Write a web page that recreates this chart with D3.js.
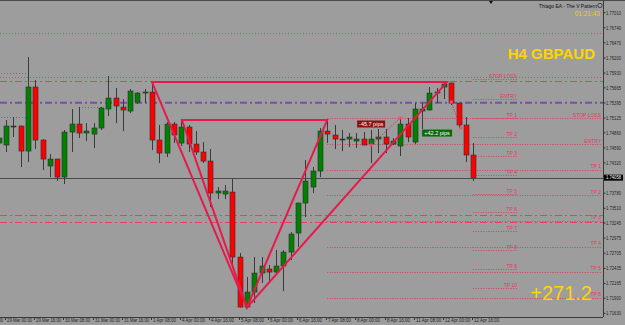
<!DOCTYPE html>
<html>
<head>
<meta charset="utf-8">
<script src="https://cdn.jsdelivr.net/npm/d3@7"></script>
<style>
body { margin: 0; background: #9d9d9d; }
svg { display: block; }
</style>
</head>
<body>
<svg id="chart" width="625" height="325"></svg>
<script>
// GBPAUD H4 candles, first entry is 28 Mar 20:00 (bar -1), bar 0 = 29 Mar 00:00
var firstBar = -1;
var opens  = [1.74677,1.74642,1.74982,1.74982,1.74534,1.75680,1.74731,1.74266,1.74391,1.74069,1.74874,1.75017,1.74856,1.74838,1.74946,1.75286,1.75483,1.75322,1.75250,1.75411,1.75572,1.75590,1.74731,1.74498,1.75017,1.74677,1.74964,1.74659,1.74516,1.74355,1.73782,1.73764,1.73800,1.72637,1.71742,1.72010,1.72350,1.72422,1.72368,1.72476,1.72726,1.73066,1.73603,1.73890,1.74176,1.74892,1.74821,1.74749,1.74749,1.74713,1.74749,1.74659,1.74749,1.74785,1.74659,1.74624,1.75017,1.74695,1.75250,1.75268,1.75572,1.75680,1.75751,1.75393,1.75000,1.74463];
var highs  = [1.74821,1.75089,1.75143,1.74990,1.76217,1.75805,1.74749,1.74480,1.74395,1.74910,1.75286,1.75322,1.75035,1.75035,1.75322,1.75877,1.75662,1.75465,1.75644,1.75590,1.75644,1.75751,1.75000,1.75053,1.75053,1.75089,1.75000,1.74892,1.74695,1.74570,1.73890,1.73926,1.74033,1.72708,1.72279,1.72637,1.72637,1.72494,1.72762,1.72762,1.73084,1.73610,1.74373,1.74248,1.74946,1.75107,1.75000,1.74910,1.74856,1.74856,1.74874,1.74910,1.74928,1.74928,1.74767,1.75125,1.75125,1.75393,1.75393,1.75680,1.75662,1.75769,1.75760,1.75400,1.75143,1.74677];
var lows   = [1.74624,1.74516,1.74785,1.74248,1.74337,1.74570,1.74194,1.74069,1.73997,1.73943,1.74516,1.74767,1.74713,1.74588,1.74910,1.75161,1.75035,1.74892,1.75214,1.75375,1.75393,1.74552,1.74319,1.74427,1.74677,1.74624,1.74516,1.74463,1.74319,1.73532,1.73675,1.73675,1.72458,1.71735,1.71724,1.71813,1.72171,1.72171,1.72350,1.72028,1.72583,1.72816,1.73353,1.73782,1.74069,1.74677,1.74570,1.74534,1.74606,1.74588,1.74636,1.74319,1.74498,1.74498,1.74642,1.74445,1.74695,1.74659,1.74928,1.75262,1.75393,1.75465,1.75358,1.74946,1.74337,1.73997];
var closes = [1.74767,1.74982,1.74982,1.74534,1.75680,1.74731,1.74391,1.74391,1.74069,1.74874,1.75017,1.74856,1.74892,1.74946,1.75304,1.75483,1.75340,1.75268,1.75608,1.75572,1.75590,1.74731,1.74498,1.75017,1.74821,1.74964,1.74659,1.74516,1.74355,1.73782,1.73818,1.73818,1.72637,1.71742,1.72010,1.72350,1.72476,1.72368,1.72476,1.72726,1.73048,1.73603,1.73997,1.74176,1.74892,1.74838,1.74749,1.74749,1.74785,1.74749,1.74642,1.74749,1.74785,1.74659,1.74713,1.75017,1.74785,1.75286,1.75286,1.75572,1.75590,1.75733,1.75393,1.75000,1.74463,1.74058];

var priceTicks = [1.77010,1.76740,1.76470,1.76200,1.75930,1.75665,1.75395,1.75125,1.74860,1.74590,1.74320,1.73780,1.73510,1.73245,1.72975,1.72705,1.72435,1.72165,1.71900,1.71630];
var timeTickBars = [-4,0,4,8,12,16,20,24,28,32,36,40,44,48,52,56,60,64];
var timeTickLabels = ["28 Mar 08:00","29 Mar 00:00","29 Mar 16:00","30 Mar 08:00","31 Mar 00:00","31 Mar 16:00","1 Apr 08:00","4 Apr 00:00","4 Apr 16:00","5 Apr 08:00","6 Apr 00:00","6 Apr 16:00","7 Apr 08:00","8 Apr 00:00","8 Apr 16:00","11 Apr 08:00","12 Apr 00:00","12 Apr 16:00"];
var bidPrice = 1.74058;

// EA levels
var rightLevelNames  = ["STOP LOSS","ENTRY","TP 1","TP 2","TP 3","TP 4","TP 5","TP 6"];
var rightLevelPrices = [1.75120,1.74660,1.74200,1.73745,1.73285,1.72825,1.72370,1.71910];
var rightLevelStart  = 44;
var leftLevelNames   = ["STOP LOSS","ENTRY","TP 1","TP 2","TP 3","TP 4","TP 5","TP 6","TP 7","TP 8","TP 9","TP 10"];
var leftLevelPrices  = [1.75823,1.75465,1.75125,1.74785,1.74445,1.74104,1.73764,1.73442,1.73102,1.72762,1.72422,1.72082];
var leftLevelStart   = 64;

var dottedLevels  = [1.76646,1.75868];
var dashDotLevels = [1.75796,1.73388,1.73263];
var purpleLevel   = 1.75399;
var segFrom  = [-1.5,-1.5,10,31];
var segTo    = [3,3,13.3,44];
var segPrice = [1.75925,1.75148,1.75316,1.74058];

// V pattern triangles [bar, price]
var patternA = [[20.0,1.75769],[60.4,1.75769],[33.0,1.71735]];
var patternB = [[24.1,1.75089],[44.0,1.75089],[33.0,1.71735]];

// closed trades
var tradeFrom = [[50,1.74642],[61,1.75411]];
var tradeTo   = [[54,1.75125],[62.3,1.74946]];
var tradeText = ["-45.7 pips","+42.2 pips"];
var tradeBar  = [48.1,57.0];
var tradePrice= [1.75018,1.74856];

var svg = d3.select("#chart");
var plotRight = 603, plotBottom = 317;

var x = d3.scaleLinear().domain([0, 64]).range([6, 473.2]);
var y = d3.scaleLinear().domain([1.71630, 1.77010]).range([313.3, 12.7]);
function px(v) { return Math.round(v) + 0.5; }

svg.append("defs").append("clipPath").attr("id", "clip")
    .append("rect").attr("x", 0).attr("y", 0).attr("width", plotRight).attr("height", plotBottom);

var plot = svg.append("g").attr("clip-path", "url(#clip)");
var red = "#e23a5c";

// full width levels
plot.selectAll(".dl").data(dottedLevels).enter().append("line")
    .attr("x1", 0).attr("x2", plotRight)
    .attr("y1", function(d) { return px(y(d)); }).attr("y2", function(d) { return px(y(d)); })
    .attr("stroke", red).attr("stroke-dasharray", "1,2").attr("opacity", 0.8);
plot.selectAll(".ddl").data(dashDotLevels).enter().append("line")
    .attr("x1", 0).attr("x2", plotRight)
    .attr("y1", function(d) { return px(y(d)); }).attr("y2", function(d) { return px(y(d)); })
    .attr("stroke", "#e8405a").attr("stroke-dasharray", "7,3,2,3");
plot.append("line")
    .attr("x1", 0).attr("x2", plotRight)
    .attr("y1", y(purpleLevel)).attr("y2", y(purpleLevel))
    .attr("stroke", "#7650a8").attr("stroke-width", 2).attr("stroke-dasharray", "7,3,2,3");

// short segments
plot.selectAll(".seg").data(segPrice).enter().append("line")
    .attr("x1", function(d, i) { return x(segFrom[i]); })
    .attr("x2", function(d, i) { return x(segTo[i]); })
    .attr("y1", function(d) { return px(y(d)); }).attr("y2", function(d) { return px(y(d)); })
    .attr("stroke", function(d, i) { return i == 3 ? "#6a4a3a" : red; })
    .attr("stroke-dasharray", "1,2");

// bid line
plot.append("line")
    .attr("x1", 0).attr("x2", plotRight)
    .attr("y1", px(y(bidPrice))).attr("y2", px(y(bidPrice)))
    .attr("stroke", "#4a4a4a");

// EA level lines + labels
function drawLevels(names, prices, startBar, endX) {
    var g = plot.append("g");
    g.selectAll("line").data(prices).enter().append("line")
        .attr("x1", x(startBar)).attr("x2", endX)
        .attr("y1", function(d) { return px(y(d)); }).attr("y2", function(d) { return px(y(d)); })
        .attr("stroke", red).attr("stroke-dasharray", "1,1.5");
    g.selectAll("text").data(prices).enter().append("text")
        .attr("x", endX).attr("y", function(d) { return y(d) - 1.5; })
        .attr("text-anchor", "end")
        .attr("font-family", "Liberation Sans, Arial, sans-serif")
        .attr("font-size", 5).attr("fill", red)
        .text(function(d, i) { return names[i]; });
}
drawLevels(leftLevelNames, leftLevelPrices, leftLevelStart, 517);
drawLevels(rightLevelNames, rightLevelPrices, rightLevelStart, 601);

// candles
var candles = opens.map(function(o, k) {
    return { bar: firstBar + k, o: o, h: highs[k], l: lows[k], c: closes[k] };
});
var cg = plot.append("g").selectAll("g").data(candles).enter().append("g");
cg.append("line")
    .attr("x1", function(d) { return px(x(d.bar)); })
    .attr("x2", function(d) { return px(x(d.bar)); })
    .attr("y1", function(d) { return y(d.h); })
    .attr("y2", function(d) { return y(d.l); })
    .attr("stroke", "#3a3a3a");
cg.append("rect")
    .attr("x", function(d) { return Math.round(x(d.bar)) - 2; })
    .attr("width", 5)
    .attr("y", function(d) { return y(Math.max(d.o, d.c)); })
    .attr("height", function(d) { return Math.max(1, Math.abs(y(d.o) - y(d.c))); })
    .attr("fill", function(d) { return d.c > d.o ? "#008200" : (d.c < d.o ? "#ff0000" : "#3a3a3a"); })
    .attr("stroke", "#2e2e2e").attr("stroke-width", 0.6);

// V pattern
var tri = d3.line().x(function(d) { return x(d[0]); }).y(function(d) { return y(d[1]); });
[patternA, patternB].forEach(function(p) {
    plot.append("path").attr("d", tri(p) + "Z")
        .attr("fill", "none").attr("stroke", "#e8184a").attr("stroke-width", 2)
        .attr("stroke-linejoin", "miter");
});

// trades
tradeFrom.forEach(function(f, i) {
    plot.append("line")
        .attr("x1", x(f[0])).attr("y1", y(f[1]))
        .attr("x2", x(tradeTo[i][0])).attr("y2", y(tradeTo[i][1]))
        .attr("stroke", "#e8184a").attr("stroke-dasharray", "1,1.5");
    [f, tradeTo[i]].forEach(function(pt) {
        plot.append("rect").attr("x", x(pt[0]) - 1.5).attr("y", y(pt[1]) - 1.5)
            .attr("width", 3).attr("height", 3).attr("fill", "#f05070");
    });
});
tradeText.forEach(function(t, i) {
    var g = plot.append("g").attr("transform", "translate(" + x(tradeBar[i]) + "," + y(tradePrice[i]) + ")");
    g.append("rect").attr("x", 0).attr("y", -3.5).attr("width", i == 0 ? 28 : 30).attr("height", 7)
        .attr("fill", i == 0 ? "#8e1010" : "#0a6a0a");
    g.append("text").attr("x", i == 0 ? 14 : 15).attr("y", 2)
        .attr("text-anchor", "middle")
        .attr("font-family", "Liberation Sans, Arial, sans-serif")
        .attr("font-size", 5.5).attr("fill", "#ffffff")
        .text(t);
});

// frame
svg.append("line").attr("x1", 0).attr("x2", 625).attr("y1", 0.5).attr("y2", 0.5).attr("stroke", "#4a4a4a");
svg.append("line").attr("x1", px(plotRight)).attr("x2", px(plotRight)).attr("y1", 0).attr("y2", plotBottom)
    .attr("stroke", "#3a3a3a");
svg.append("line").attr("x1", 0).attr("x2", plotRight).attr("y1", px(plotBottom)).attr("y2", px(plotBottom))
    .attr("stroke", "#3a3a3a");
svg.append("path").attr("d", "M489,1L493,1L491,4Z").attr("fill", "#111");

// price axis
var ya = svg.append("g").selectAll("g").data(priceTicks).enter().append("g")
    .attr("transform", function(d) { return "translate(0," + y(d) + ")"; });
ya.append("line").attr("x1", plotRight).attr("x2", plotRight + 2.5).attr("stroke", "#333");
ya.append("text").attr("x", 606).attr("y", 1.8)
    .attr("font-family", "Liberation Sans, Arial, sans-serif").attr("font-size", 5)
    .attr("textLength", 15).attr("lengthAdjust", "spacingAndGlyphs")
    .attr("fill", "#1e1e1e")
    .text(function(d) { return d.toFixed(5); });

// bid box
svg.append("rect").attr("x", 604).attr("y", y(bidPrice) - 3).attr("width", 19).attr("height", 6).attr("fill", "#000");
svg.append("text").attr("x", 606).attr("y", y(bidPrice) + 1.8)
    .attr("font-family", "Liberation Sans, Arial, sans-serif").attr("font-size", 5)
    .attr("textLength", 15).attr("lengthAdjust", "spacingAndGlyphs")
    .attr("fill", "#fff").text(bidPrice.toFixed(5));

// time axis
var xa = svg.append("g").selectAll("g").data(timeTickBars).enter().append("g")
    .attr("transform", function(d) { return "translate(" + Math.round(x(d) - 1) + ",0)"; });
xa.append("line").attr("x1", 0.5).attr("x2", 0.5).attr("y1", plotBottom).attr("y2", plotBottom + 3).attr("stroke", "#333");
xa.append("text").attr("x", 2).attr("y", 322)
    .attr("font-family", "Liberation Sans, Arial, sans-serif").attr("font-size", 5)
    .attr("textLength", function(d, i) { return timeTickLabels[i].length * 2.1; })
    .attr("lengthAdjust", "spacingAndGlyphs")
    .attr("fill", "#1e1e1e")
    .text(function(d, i) { return timeTickLabels[i]; });

// captions
svg.append("text").attr("x", 597).attr("y", 7.5).attr("text-anchor", "end")
    .attr("font-family", "Liberation Sans, Arial, sans-serif").attr("font-size", 5).attr("fill", "#111")
    .text("Thiago EA - The V Pattern");
svg.append("circle").attr("cx", 600).attr("cy", 5.5).attr("r", 2.2).attr("fill", "none").attr("stroke", "#111").attr("stroke-width", 0.6);
svg.append("text").attr("x", 600).attr("y", 16).attr("text-anchor", "end")
    .attr("font-family", "Liberation Sans, Arial, sans-serif").attr("font-size", 6.5).attr("fill", "#f0d000")
    .text("01:21:43");
svg.append("text").attr("x", 595).attr("y", 58.5).attr("text-anchor", "end")
    .attr("font-family", "Liberation Sans, Arial, sans-serif").attr("font-size", 15).attr("font-weight", "bold")
    .attr("fill", "#ffd400").text("H4 GBPAUD");
svg.append("text").attr("x", 592).attr("y", 299.5).attr("text-anchor", "end")
    .attr("font-family", "Liberation Sans, Arial, sans-serif").attr("font-size", 20)
    .attr("fill", "#ffd400").text("+271.2");
</script>
</body>
</html>
